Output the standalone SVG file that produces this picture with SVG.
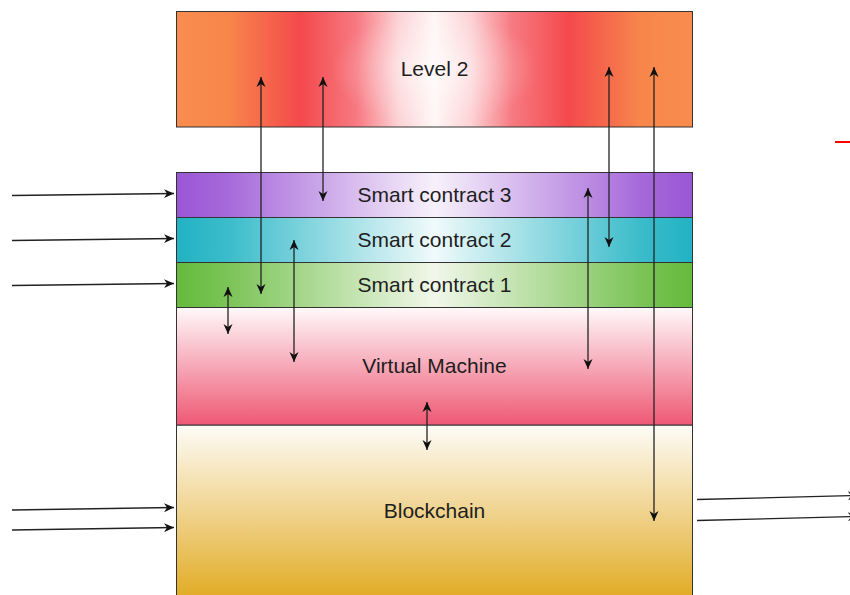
<svg xmlns="http://www.w3.org/2000/svg" width="850" height="595" viewBox="0 0 850 595">
<defs>
<linearGradient id="gL2" x1="0" y1="0" x2="1" y2="0">
<stop offset="0" stop-color="#f98c4e"/><stop offset="0.1" stop-color="#f8864b"/><stop offset="0.24" stop-color="#f4494c"/><stop offset="0.35" stop-color="#f77a82"/><stop offset="0.43" stop-color="#fcd2d5"/><stop offset="0.5" stop-color="#fff6f6"/><stop offset="0.57" stop-color="#fcd2d5"/><stop offset="0.65" stop-color="#f77a82"/><stop offset="0.76" stop-color="#f4494c"/><stop offset="0.9" stop-color="#f8864b"/><stop offset="1" stop-color="#f98c4e"/>
</linearGradient>
<radialGradient id="gL2r" cx="0.5" cy="0.5" r="0.5" gradientTransform="translate(0.3 0) scale(0.4 1)">
<stop offset="0" stop-color="#ffffff" stop-opacity="0.6"/><stop offset="0.5" stop-color="#ffffff" stop-opacity="0.25"/><stop offset="1" stop-color="#ffffff" stop-opacity="0"/>
</radialGradient>
<linearGradient id="gS3" x1="0" y1="0" x2="1" y2="0">
<stop offset="0" stop-color="#9a57d5"/><stop offset="0.1" stop-color="#a669da"/><stop offset="0.5" stop-color="#f7f1fb"/><stop offset="0.9" stop-color="#a669da"/><stop offset="1" stop-color="#9a57d5"/>
</linearGradient>
<linearGradient id="gS2" x1="0" y1="0" x2="1" y2="0">
<stop offset="0" stop-color="#22b2c3"/><stop offset="0.1" stop-color="#3bbcca"/><stop offset="0.5" stop-color="#f0fafb"/><stop offset="0.9" stop-color="#3bbcca"/><stop offset="1" stop-color="#22b2c3"/>
</linearGradient>
<linearGradient id="gS1" x1="0" y1="0" x2="1" y2="0">
<stop offset="0" stop-color="#65ba3b"/><stop offset="0.1" stop-color="#7bc457"/><stop offset="0.5" stop-color="#f1f7ea"/><stop offset="0.9" stop-color="#7bc457"/><stop offset="1" stop-color="#65ba3b"/>
</linearGradient>
<linearGradient id="gVM" x1="0" y1="0" x2="0" y2="1">
<stop offset="0" stop-color="#fff9fa"/><stop offset="1" stop-color="#ee5874"/>
</linearGradient>
<linearGradient id="gBC" x1="0" y1="0" x2="0" y2="1">
<stop offset="0" stop-color="#fefcf8"/><stop offset="1" stop-color="#e1aa22"/>
</linearGradient>
<marker id="ah" viewBox="0 0 10 10" refX="10" refY="5" markerWidth="10" markerHeight="10" markerUnits="userSpaceOnUse" orient="auto-start-reverse">
<path d="M0,0.5 L10,5 L0,9.5 L3,5 z" fill="#111"/>
</marker>
<style>
.box{stroke:#333;stroke-width:1}
.lbl{font-family:"Liberation Sans",Arial,sans-serif;font-size:21px;fill:#1e1e1e;text-anchor:middle;dominant-baseline:central}
.con line{stroke:#222;stroke-width:1.3;fill:none}
.bi{marker-start:url(#ah);marker-end:url(#ah)}
.uni{marker-end:url(#ah)}
</style>
</defs>
<rect width="850" height="595" fill="#ffffff"/>
<g id="blockchain">
<rect class="box" x="176.5" y="425" width="516" height="175" fill="url(#gBC)"/>
<text class="lbl" x="434.5" y="510.5">Blockchain</text>
</g>
<g id="virtual-machine">
<rect class="box" x="176.5" y="307.5" width="516" height="117.5" fill="url(#gVM)"/>
<text class="lbl" x="434.5" y="365.5">Virtual Machine</text>
</g>
<g id="smart-contract-1">
<rect class="box" x="176.5" y="262.5" width="516" height="45" fill="url(#gS1)"/>
<text class="lbl" x="434.5" y="284">Smart contract 1</text>
</g>
<g id="smart-contract-2">
<rect class="box" x="176.5" y="217.5" width="516" height="45" fill="url(#gS2)"/>
<text class="lbl" x="434.5" y="239">Smart contract 2</text>
</g>
<g id="smart-contract-3">
<rect class="box" x="176.5" y="172.5" width="516" height="45" fill="url(#gS3)"/>
<text class="lbl" x="434.5" y="194">Smart contract 3</text>
</g>
<g id="level-2">
<rect class="box" x="176.5" y="11.5" width="516" height="115.5" fill="url(#gL2)"/>
<rect x="177" y="12" width="515" height="114.5" fill="url(#gL2r)"/>
<text class="lbl" x="434.5" y="68.5">Level 2</text>
</g>
<g id="connectors" class="con">
<line class="bi" x1="261" y1="77" x2="261" y2="294"/>
<line class="bi" x1="323" y1="77" x2="323" y2="201"/>
<line class="bi" x1="609" y1="67" x2="609" y2="247"/>
<line class="bi" x1="654" y1="67" x2="654" y2="521"/>
<line class="bi" x1="228" y1="287" x2="228" y2="334"/>
<line class="bi" x1="294" y1="240" x2="294" y2="362"/>
<line class="bi" x1="588" y1="188" x2="588" y2="369"/>
<line class="bi" x1="427" y1="402" x2="427" y2="450"/>
<line class="uni" x1="12" y1="195.5" x2="174" y2="193.5"/>
<line class="uni" x1="12" y1="240.5" x2="174" y2="238.5"/>
<line class="uni" x1="12" y1="285.5" x2="174" y2="283.5"/>
<line class="uni" x1="12" y1="510" x2="174" y2="507.5"/>
<line class="uni" x1="12" y1="530" x2="174" y2="527.5"/>
<line class="uni" x1="697" y1="499.5" x2="858" y2="495.5"/>
<line class="uni" x1="697" y1="520.5" x2="858" y2="516.5"/>
</g>
<line x1="835" y1="142" x2="850" y2="142" stroke="#ff0000" stroke-width="2"/>
</svg>
